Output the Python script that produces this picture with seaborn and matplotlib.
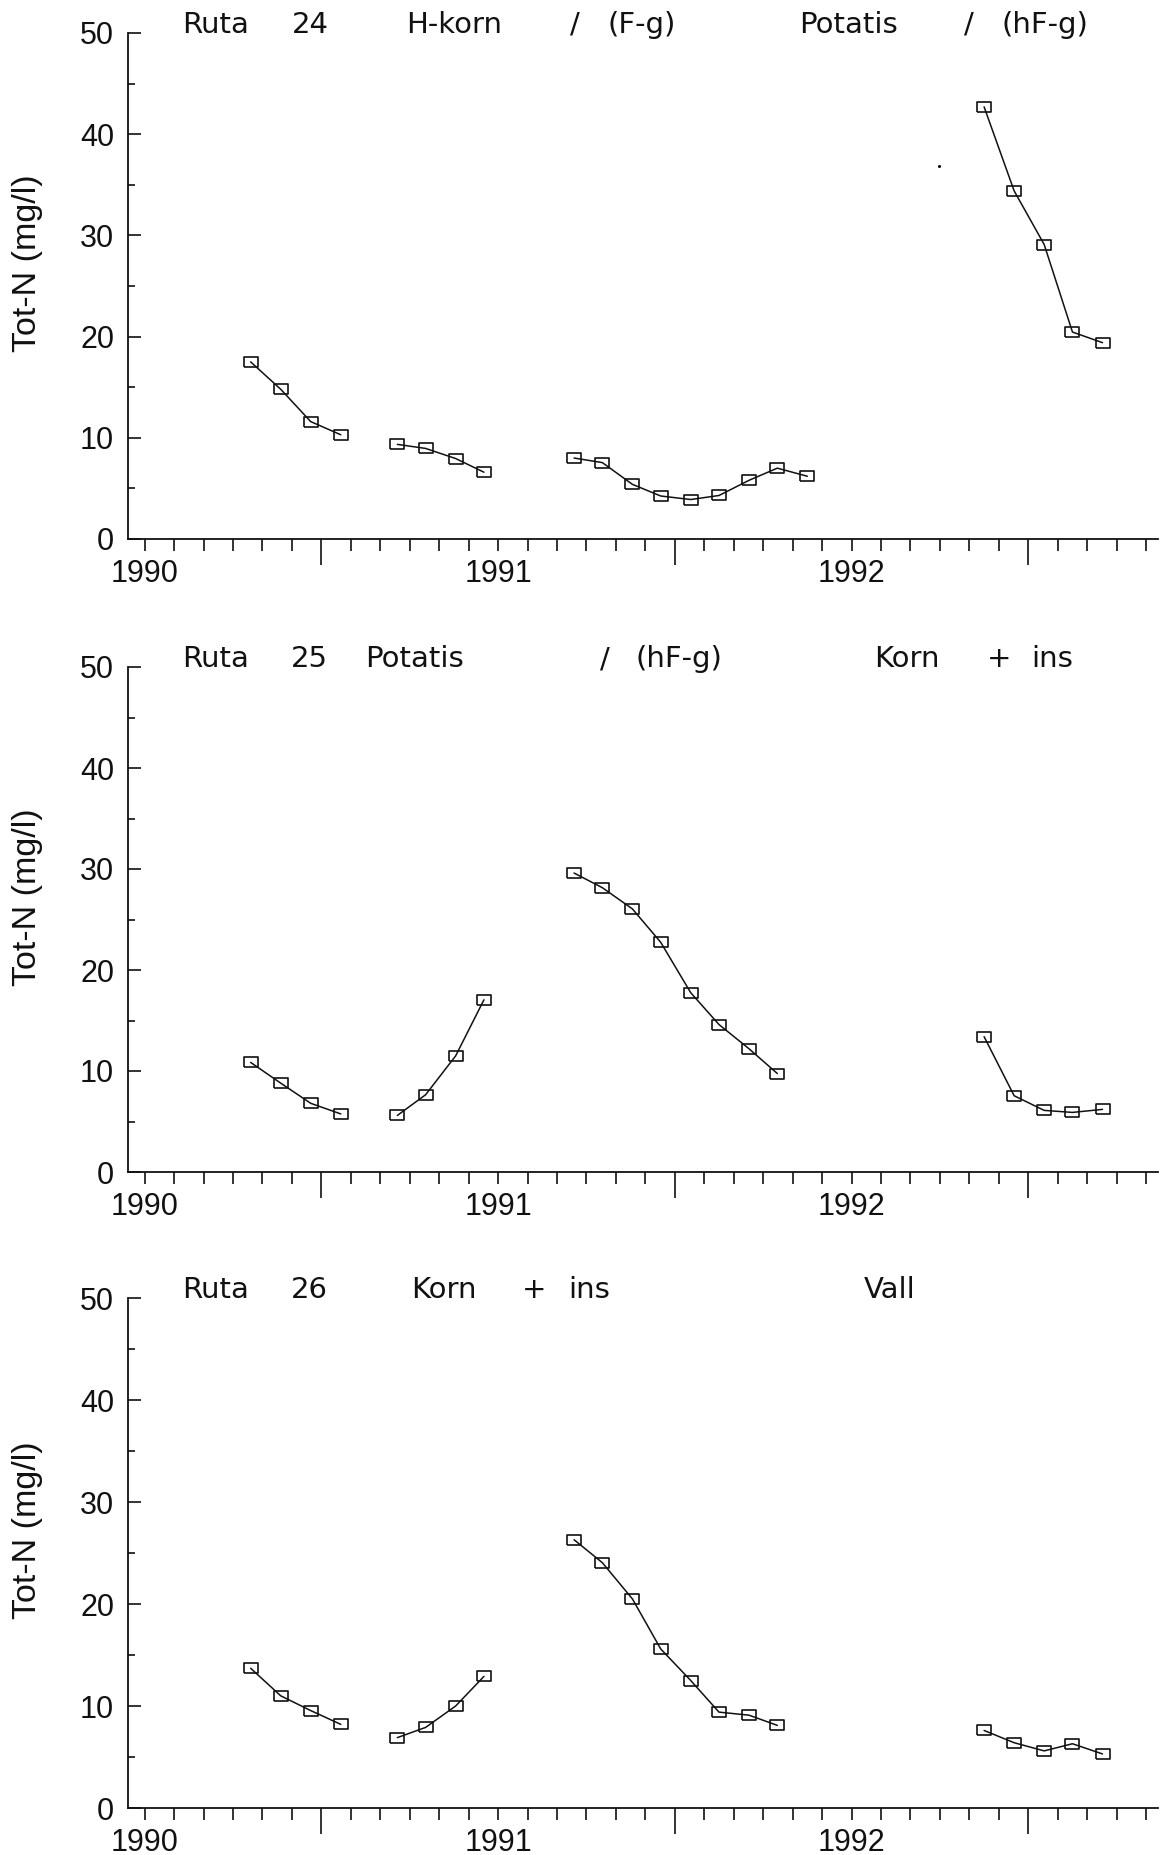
import numpy as np
import pandas as pd
import matplotlib
matplotlib.use("Agg")
import matplotlib.pyplot as plt
import matplotlib.transforms as mtransforms
from matplotlib.ticker import FixedLocator, FuncFormatter, NullFormatter
import seaborn as sns

# ---------------------------------------------------------------------------
# Sampling dates (decimal years) of the four sampling periods
dates_spring_1990 = [1990.30, 1990.385, 1990.47, 1990.555]
dates_autumn_1990 = [1990.715, 1990.795, 1990.88, 1990.96]
dates_1991 = [1991.215, 1991.295, 1991.38, 1991.46, 1991.545,
              1991.625, 1991.71, 1991.79, 1991.875]
dates_1992 = [1992.375, 1992.46, 1992.545, 1992.625, 1992.71]

# Tot-N (mg/l) in drainage water, plot 24
r24_spring_1990 = [17.5, 14.8, 11.6, 10.3]
r24_autumn_1990 = [9.35, 8.95, 7.95, 6.6]
r24_1991 = [8.0, 7.55, 5.4, 4.25, 3.9, 4.3, 5.8, 7.0, 6.2]
r24_1992 = [42.7, 34.4, 29.1, 20.45, 19.4]
r24_single_date = [1992.247]
r24_single_value = [36.9]

# Tot-N (mg/l), plot 25
r25_spring_1990 = [10.85, 8.8, 6.8, 5.75]
r25_autumn_1990 = [5.6, 7.65, 11.5, 17.05]
r25_1991 = [29.6, 28.15, 26.05, 22.75, 17.75, 14.6, 12.2, 9.75]
r25_1992 = [13.4, 7.55, 6.1, 5.9, 6.2]

# Tot-N (mg/l), plot 26
r26_spring_1990 = [13.7, 11.0, 9.55, 8.2]
r26_autumn_1990 = [6.9, 7.9, 10.0, 12.9]
r26_1991 = [26.3, 24.05, 20.5, 15.6, 12.5, 9.4, 9.1, 8.1]
r26_1992 = [7.6, 6.4, 5.6, 6.3, 5.3]

year_labels = ["1990", "1991", "1992"]
y_major = [0, 10, 20, 30, 40, 50]
y_minor = [5, 15, 25, 35, 45]
ylabel_text = "Tot-N (mg/l)"

# Crop headings, one list of (word, left edge in px) per plot
headings = [
    [("Ruta", 182), ("24", 292), ("H-korn", 406), ("/", 570), ("(F-g)", 608),
     ("Potatis", 799), ("/", 964), ("(hF-g)", 1002)],
    [("Ruta", 182), ("25", 291), ("Potatis", 365), ("/", 600), ("(hF-g)", 636),
     ("Korn", 874), ("+", 987), ("ins", 1031)],
    [("Ruta", 182), ("26", 291), ("Korn", 411), ("+", 522), ("ins", 568),
     ("Vall", 864)],
]


def segments_frame(parts):
    frames = []
    for i, (d, v) in enumerate(parts):
        frames.append(pd.DataFrame({"year": d, "totn": v, "segment": i}))
    return pd.concat(frames, ignore_index=True)


panels = [
    segments_frame([(dates_spring_1990, r24_spring_1990),
                    (dates_autumn_1990, r24_autumn_1990),
                    (dates_1991, r24_1991),
                    (dates_1992, r24_1992)]),
    segments_frame([(dates_spring_1990, r25_spring_1990),
                    (dates_autumn_1990, r25_autumn_1990),
                    (dates_1991[:len(r25_1991)], r25_1991),
                    (dates_1992, r25_1992)]),
    segments_frame([(dates_spring_1990, r26_spring_1990),
                    (dates_autumn_1990, r26_autumn_1990),
                    (dates_1991[:len(r26_1991)], r26_1991),
                    (dates_1992, r26_1992)]),
]

# ---------------------------------------------------------------------------
sns.set_theme(style="ticks")
plt.rcParams["font.family"] = ["Liberation Sans", "DejaVu Sans"]
plt.rcParams["axes.edgecolor"] = "#111111"
plt.rcParams["xtick.color"] = "#111111"
plt.rcParams["ytick.color"] = "#111111"

W, H = 1160, 1855
fig = plt.figure(figsize=(W / 100, H / 100), dpi=100, facecolor="white")

ink = "#111111"
rect_marker = [(-1, -0.75), (1, -0.75), (1, 0.75), (-1, 0.75), (-1, -0.75)]

# axes boxes in pixels: (top, bottom)
boxes = [(33, 539), (667, 1172), (1298, 1808)]
ax_left, ax_right = 128, 1158

months = 1990 + np.arange(0, 35) / 12.0


def month_label(v, pos):
    if abs(v - round(v)) < 1e-6:
        s = str(int(round(v)))
        return s if s in year_labels else ""
    return ""


for k, (df, (top, bottom)) in enumerate(zip(panels, boxes)):
    ax = fig.add_axes([ax_left / W, 1 - bottom / H,
                       (ax_right - ax_left) / W, (bottom - top) / H])
    ax.set_facecolor("white")

    sns.lineplot(data=df, x="year", y="totn", units="segment", estimator=None,
                 sort=False, color=ink, linewidth=1.1, marker=rect_marker,
                 markersize=9.6, markerfacecolor="none", markeredgecolor=ink,
                 markeredgewidth=1.2, legend=False, ax=ax)
    if k == 0:
        sns.scatterplot(x=r24_single_date, y=r24_single_value, s=5, color=ink,
                        linewidth=0, ax=ax, legend=False)

    ax.set_xlim(1989.953, 1992.867)
    ax.set_ylim(0, 50)

    ax.yaxis.set_major_locator(FixedLocator(y_major))
    ax.yaxis.set_minor_locator(FixedLocator(y_minor))
    ax.tick_params(axis="y", which="major", direction="in", length=9,
                   width=1.2, pad=10, labelsize=22)
    ax.tick_params(axis="y", which="minor", direction="in", length=4.7,
                   width=1.2)

    ax.xaxis.set_major_locator(FixedLocator([1990.5, 1991.5, 1992.5]))
    ax.xaxis.set_minor_locator(FixedLocator(months))
    ax.xaxis.set_major_formatter(NullFormatter())
    ax.xaxis.set_minor_formatter(FuncFormatter(month_label))
    ax.tick_params(axis="x", which="major", direction="out", length=18.5,
                   width=1.2)
    ax.tick_params(axis="x", which="minor", direction="out", length=8.6,
                   width=1.2, pad=6, labelsize=22)

    ax.set_xlabel("")
    ax.set_ylabel(ylabel_text, fontsize=24.5,
                  family=["Liberation Sans", "DejaVu Sans"], color=ink)
    ax.yaxis.set_label_coords(-0.0825, 0.545)

    sns.despine(ax=ax)
    for side in ("left", "bottom"):
        ax.spines[side].set_linewidth(1.3)
        ax.spines[side].set_color(ink)

    trans = mtransforms.blended_transform_factory(fig.transFigure, ax.transAxes)
    for word, px in headings[k]:
        fig.text(px / W, 1.0, word, transform=trans, ha="left", va="baseline",
                 fontsize=21, family=["DejaVu Sans"], color=ink)

fig.savefig("out.png", dpi=100, facecolor="white")
